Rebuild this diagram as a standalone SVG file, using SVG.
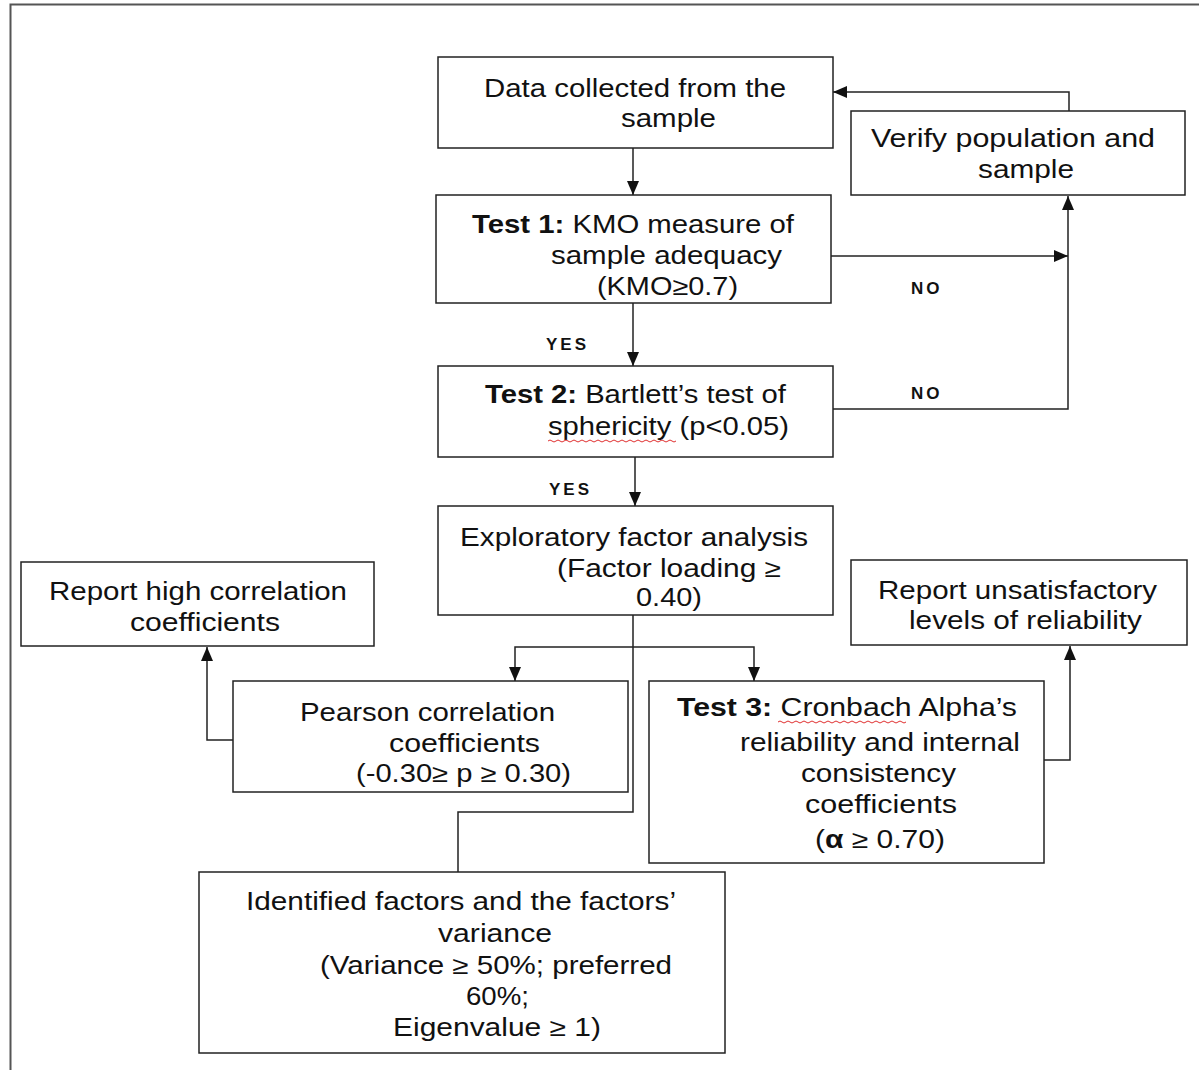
<svg xmlns="http://www.w3.org/2000/svg" width="1199" height="1070" viewBox="0 0 1199 1070">
<style>
.box{fill:#fff;stroke:#222;stroke-width:1.5}
.t{font-family:"Liberation Sans",Arial,sans-serif;font-size:25px;fill:#111}
.b{font-weight:bold}
.lbl{font-family:"Liberation Sans",Arial,sans-serif;font-size:17px;font-weight:bold;fill:#111;letter-spacing:3px}
.c{fill:none;stroke:#222;stroke-width:1.5}
.sq{fill:none;stroke:#e03030;stroke-width:1}
</style>
<defs>
<marker id="ah" viewBox="0 0 14 14" refX="14" refY="7" markerWidth="14" markerHeight="14" markerUnits="userSpaceOnUse" orient="auto">
<path d="M0,1 L14,7 L0,13 Z" fill="#111"/>
</marker>
</defs>
<rect x="10.5" y="4.5" width="1220" height="1100" fill="none" stroke="#555" stroke-width="2"/>

<g id="connectors">
<path class="c" d="M633,148 V195" marker-end="url(#ah)"/>
<path class="c" d="M1069,111 V92 H833" marker-end="url(#ah)"/>
<path class="c" d="M831,256 H1068" marker-end="url(#ah)"/>
<path class="c" d="M833,409 H1068 V196" marker-end="url(#ah)"/>
<path class="c" d="M633,303 V366" marker-end="url(#ah)"/>
<path class="c" d="M635,457 V506" marker-end="url(#ah)"/>
<path class="c" d="M633,615 V812 H458 V872"/>
<path class="c" d="M633,647 H515 V681" marker-end="url(#ah)"/>
<path class="c" d="M633,647 H754 V681" marker-end="url(#ah)"/>
<path class="c" d="M233,740 H207 V647" marker-end="url(#ah)"/>
<path class="c" d="M1044,760 H1070 V646" marker-end="url(#ah)"/>
<text class="lbl" x="546" y="350">YES</text>
<text class="lbl" x="549" y="495">YES</text>
<text class="lbl" x="911" y="294">NO</text>
<text class="lbl" x="911" y="399">NO</text>
</g>

<g id="data">
<rect class="box" x="438" y="57" width="395" height="91"/>
<text class="t" x="484" y="97" textLength="302" lengthAdjust="spacingAndGlyphs">Data collected from the</text>
<text class="t" x="621" y="127" textLength="95" lengthAdjust="spacingAndGlyphs">sample</text>
</g>

<g id="verify">
<rect class="box" x="851" y="111" width="334" height="84"/>
<text class="t" x="871" y="147" textLength="284" lengthAdjust="spacingAndGlyphs">Verify population and</text>
<text class="t" x="978" y="178" textLength="96" lengthAdjust="spacingAndGlyphs">sample</text>
</g>

<g id="test1">
<rect class="box" x="436" y="195" width="395" height="108"/>
<text class="t" x="472" y="233" textLength="322" lengthAdjust="spacingAndGlyphs"><tspan class="b">Test 1:</tspan> KMO measure of</text>
<text class="t" x="551" y="264" textLength="231" lengthAdjust="spacingAndGlyphs">sample adequacy</text>
<text class="t" x="597" y="295" textLength="141" lengthAdjust="spacingAndGlyphs">(KMO≥0.7)</text>
</g>

<g id="test2">
<rect class="box" x="438" y="366" width="395" height="91"/>
<text class="t" x="485" y="403" textLength="301" lengthAdjust="spacingAndGlyphs"><tspan class="b">Test 2:</tspan> Bartlett’s test of</text>
<text class="t" x="548" y="435" textLength="241" lengthAdjust="spacingAndGlyphs">sphericity (p&lt;0.05)</text>
<path class="sq" d="M548,441 q2,-2 4,0 t4,0 t4,0 t4,0 t4,0 t4,0 t4,0 t4,0 t4,0 t4,0 t4,0 t4,0 t4,0 t4,0 t4,0 t4,0 t4,0 t4,0 t4,0 t4,0 t4,0 t4,0 t4,0 t4,0 t4,0 t4,0 t4,0 t4,0 t4,0 t4,0 t4,0 t4,0"/>
</g>

<g id="efa">
<rect class="box" x="438" y="506" width="395" height="109"/>
<text class="t" x="460" y="546" textLength="348" lengthAdjust="spacingAndGlyphs">Exploratory factor analysis</text>
<text class="t" x="557" y="577" textLength="224" lengthAdjust="spacingAndGlyphs">(Factor loading ≥</text>
<text class="t" x="636" y="606" textLength="66" lengthAdjust="spacingAndGlyphs">0.40)</text>
</g>

<g id="reporthigh">
<rect class="box" x="21" y="562" width="353" height="84"/>
<text class="t" x="49" y="600" textLength="298" lengthAdjust="spacingAndGlyphs">Report high correlation</text>
<text class="t" x="130" y="631" textLength="150" lengthAdjust="spacingAndGlyphs">coefficients</text>
</g>

<g id="reportunsat">
<rect class="box" x="851" y="560" width="336" height="85"/>
<text class="t" x="878" y="599" textLength="279" lengthAdjust="spacingAndGlyphs">Report unsatisfactory</text>
<text class="t" x="909" y="629" textLength="233" lengthAdjust="spacingAndGlyphs">levels of reliability</text>
</g>

<g id="pearson">
<rect class="box" x="233" y="681" width="395" height="111"/>
<text class="t" x="300" y="721" textLength="255" lengthAdjust="spacingAndGlyphs">Pearson correlation</text>
<text class="t" x="389" y="752" textLength="151" lengthAdjust="spacingAndGlyphs">coefficients</text>
<text class="t" x="356" y="782" textLength="215" lengthAdjust="spacingAndGlyphs">(-0.30≥ p ≥ 0.30)</text>
</g>

<g id="test3">
<rect class="box" x="649" y="681" width="395" height="182"/>
<text class="t" x="677" y="716" textLength="340" lengthAdjust="spacingAndGlyphs"><tspan class="b">Test 3:</tspan> Cronbach Alpha’s</text>
<path class="sq" d="M778,722 q2,-2 4,0 t4,0 t4,0 t4,0 t4,0 t4,0 t4,0 t4,0 t4,0 t4,0 t4,0 t4,0 t4,0 t4,0 t4,0 t4,0 t4,0 t4,0 t4,0 t4,0 t4,0 t4,0 t4,0 t4,0 t4,0 t4,0 t4,0 t4,0 t4,0 t4,0 t4,0 t4,0"/>
<text class="t" x="740" y="751" textLength="280" lengthAdjust="spacingAndGlyphs">reliability and internal</text>
<text class="t" x="801" y="782" textLength="155" lengthAdjust="spacingAndGlyphs">consistency</text>
<text class="t" x="805" y="813" textLength="152" lengthAdjust="spacingAndGlyphs">coefficients</text>
<text class="t" x="815" y="848" textLength="130" lengthAdjust="spacingAndGlyphs">(<tspan class="b">α</tspan> ≥ 0.70)</text>
</g>

<g id="identified">
<rect class="box" x="199" y="872" width="526" height="181"/>
<text class="t" x="246" y="910" textLength="430" lengthAdjust="spacingAndGlyphs">Identified factors and the factors’</text>
<text class="t" x="438" y="942" textLength="114" lengthAdjust="spacingAndGlyphs">variance</text>
<text class="t" x="320" y="974" textLength="352" lengthAdjust="spacingAndGlyphs">(Variance ≥ 50%; preferred</text>
<text class="t" x="466" y="1005" textLength="63" lengthAdjust="spacingAndGlyphs">60%;</text>
<text class="t" x="393" y="1036" textLength="208" lengthAdjust="spacingAndGlyphs">Eigenvalue ≥ 1)</text>
</g>
</svg>
